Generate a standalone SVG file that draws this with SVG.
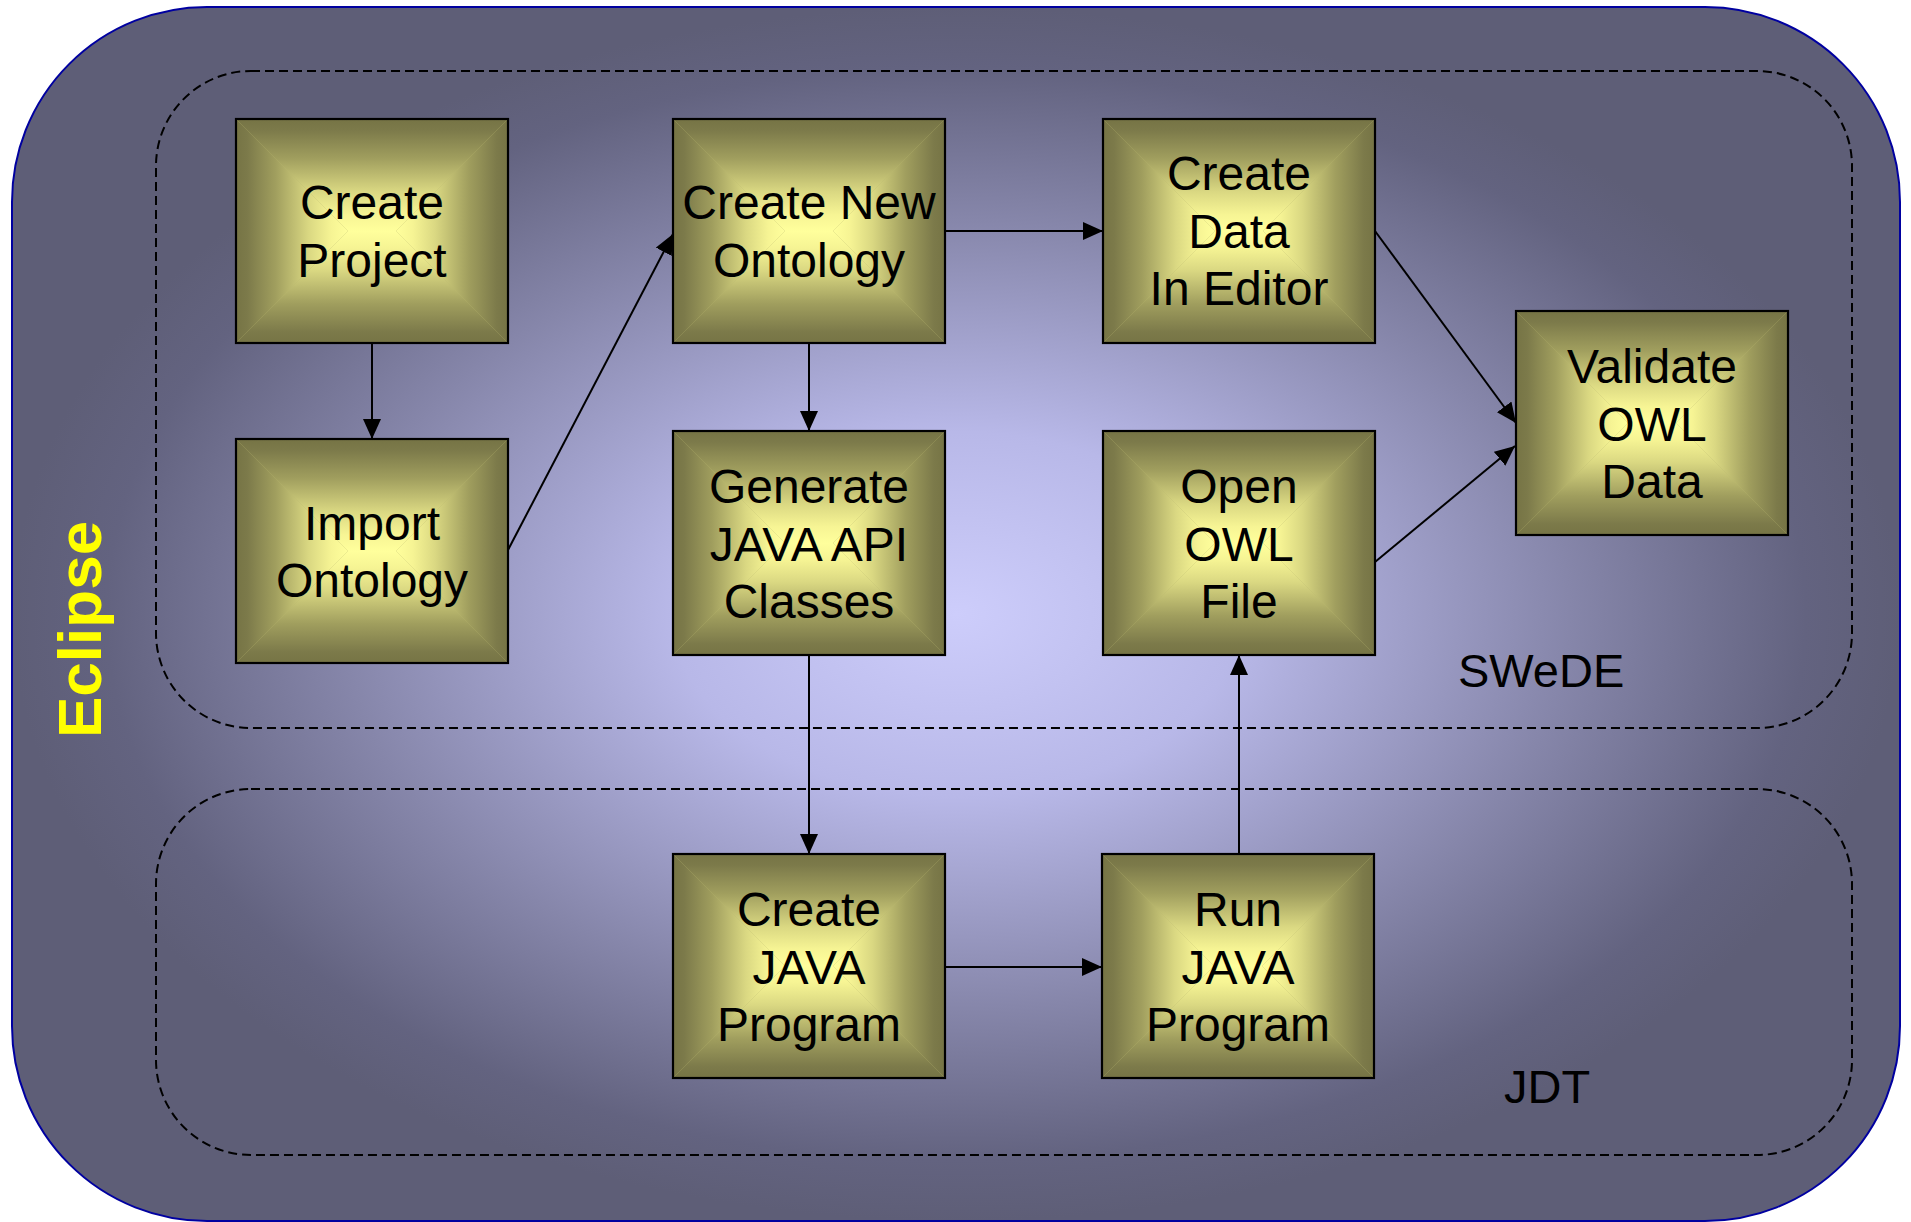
<svg xmlns="http://www.w3.org/2000/svg" width="1911" height="1222" viewBox="0 0 1911 1222">
<style>
.lbl{font-family:"Liberation Sans",Arial,sans-serif;font-size:48px;fill:#000;text-anchor:middle}
.grp{font-family:"Liberation Sans",Arial,sans-serif;font-size:47px;fill:#000}
.nb{fill:none;stroke:#000;stroke-width:2.2}
.cont{fill:none;stroke:#000;stroke-width:2;stroke-dasharray:9 5}
.conn{fill:none;stroke:#000;stroke-width:2;marker-end:url(#arr)}
</style>
<defs>
<radialGradient id="bg" cx="0.5" cy="0.5" r="0.5">
<stop offset="0" stop-color="#CDCDFB"/>
<stop offset="0.3" stop-color="#B8B8E8"/>
<stop offset="0.65" stop-color="#8686AA"/>
<stop offset="0.9" stop-color="#636380"/>
<stop offset="1" stop-color="#5E5E77"/>
</radialGradient>
<linearGradient id="gT" x1="0" y1="0" x2="0" y2="1">
<stop offset="0" stop-color="#767445"/>
<stop offset="0.1" stop-color="#7C7A4A"/>
<stop offset="0.35" stop-color="#A09E5E"/>
<stop offset="0.65" stop-color="#DAD882"/>
<stop offset="0.85" stop-color="#F6F494"/>
<stop offset="1" stop-color="#FFFF9C"/>
</linearGradient>
<linearGradient id="gB" href="#gT" x1="0" y1="1" x2="0" y2="0"/>
<linearGradient id="gL" href="#gT" x1="0" y1="0" x2="1" y2="0"/>
<linearGradient id="gR" href="#gT" x1="1" y1="0" x2="0" y2="0"/>
<g id="nbg">
<rect width="272" height="224" fill="#B8B66E"/>
<polygon points="0,0 272,0 160,112 112,112" fill="url(#gT)"/>
<polygon points="0,224 272,224 160,112 112,112" fill="url(#gB)"/>
<polygon points="0,0 112,112 0,224" fill="url(#gL)"/>
<polygon points="272,0 160,112 272,224" fill="url(#gR)"/>
</g>
<marker id="arr" markerUnits="userSpaceOnUse" markerWidth="20" markerHeight="18" refX="20" refY="9" orient="auto">
<path d="M0,0 L20,9 L0,18 z" fill="#000"/>
</marker>
</defs>

<g id="eclipse">
<rect x="12" y="7" width="1888" height="1214" rx="195" ry="195" fill="url(#bg)" stroke="#0000A0" stroke-width="2"/>
<text transform="translate(101,738) rotate(-90)" font-family="'Liberation Sans',Arial,sans-serif" font-size="62" font-weight="bold" fill="#FFFF00">Eclipse</text>
</g>

<g id="swede">
<rect class="cont" x="156" y="71" width="1696" height="657" rx="95" ry="95"/>
<text class="grp" x="1458" y="687">SWeDE</text>
</g>
<g id="jdt">
<rect class="cont" x="156" y="789" width="1696" height="366" rx="95" ry="95"/>
<text class="grp" x="1504" y="1103">JDT</text>
</g>

<g id="connectors">
<line class="conn" x1="372" y1="343" x2="372" y2="439"/>
<line class="conn" x1="508" y1="550" x2="673" y2="234"/>
<line class="conn" x1="945" y1="231" x2="1103" y2="231"/>
<line class="conn" x1="809" y1="343" x2="809" y2="431"/>
<line class="conn" x1="1375" y1="231" x2="1516" y2="423"/>
<line class="conn" x1="1375" y1="562" x2="1515" y2="446"/>
<line class="conn" x1="809" y1="655" x2="809" y2="854"/>
<line class="conn" x1="945" y1="967" x2="1102" y2="967"/>
<line class="conn" x1="1239" y1="854" x2="1239" y2="655"/>
</g>

<g id="createProject">
<use href="#nbg" x="236" y="119"/>
<rect class="nb" x="236" y="119" width="272" height="224"/>
<text class="lbl"><tspan x="372" y="219">Create</tspan><tspan x="372" y="277">Project</tspan></text>
</g>
<g id="importOntology">
<use href="#nbg" x="236" y="439"/>
<rect class="nb" x="236" y="439" width="272" height="224"/>
<text class="lbl"><tspan x="372" y="540">Import</tspan><tspan x="372" y="597">Ontology</tspan></text>
</g>
<g id="createNewOntology">
<use href="#nbg" x="673" y="119"/>
<rect class="nb" x="673" y="119" width="272" height="224"/>
<text class="lbl"><tspan x="809" y="219">Create New</tspan><tspan x="809" y="277">Ontology</tspan></text>
</g>
<g id="generateJavaApi">
<use href="#nbg" x="673" y="431"/>
<rect class="nb" x="673" y="431" width="272" height="224"/>
<text class="lbl"><tspan x="809" y="503">Generate</tspan><tspan x="809" y="561">JAVA API</tspan><tspan x="809" y="618">Classes</tspan></text>
</g>
<g id="createData">
<use href="#nbg" x="1103" y="119"/>
<rect class="nb" x="1103" y="119" width="272" height="224"/>
<text class="lbl"><tspan x="1239" y="190">Create</tspan><tspan x="1239" y="248">Data</tspan><tspan x="1239" y="305">In Editor</tspan></text>
</g>
<g id="openOwlFile">
<use href="#nbg" x="1103" y="431"/>
<rect class="nb" x="1103" y="431" width="272" height="224"/>
<text class="lbl"><tspan x="1239" y="503">Open</tspan><tspan x="1239" y="561">OWL</tspan><tspan x="1239" y="618">File</tspan></text>
</g>
<g id="validateOwlData">
<use href="#nbg" x="1516" y="311"/>
<rect class="nb" x="1516" y="311" width="272" height="224"/>
<text class="lbl"><tspan x="1652" y="383">Validate</tspan><tspan x="1652" y="441">OWL</tspan><tspan x="1652" y="498">Data</tspan></text>
</g>
<g id="createJavaProgram">
<use href="#nbg" x="673" y="854"/>
<rect class="nb" x="673" y="854" width="272" height="224"/>
<text class="lbl"><tspan x="809" y="926">Create</tspan><tspan x="809" y="984">JAVA</tspan><tspan x="809" y="1041">Program</tspan></text>
</g>
<g id="runJavaProgram">
<use href="#nbg" x="1102" y="854"/>
<rect class="nb" x="1102" y="854" width="272" height="224"/>
<text class="lbl"><tspan x="1238" y="926">Run</tspan><tspan x="1238" y="984">JAVA</tspan><tspan x="1238" y="1041">Program</tspan></text>
</g>
</svg>
